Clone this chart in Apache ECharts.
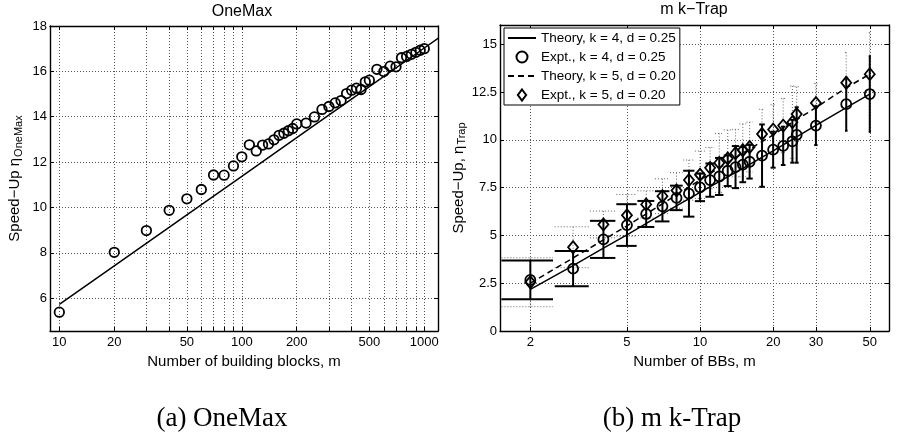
<!DOCTYPE html>
<html>
<head>
<meta charset="utf-8">
<script src="https://cdn.jsdelivr.net/npm/echarts@6/dist/echarts.min.js"></script>
<style>
html, body { margin: 0; padding: 0; background: #fff; }
#chart { width: 897px; height: 434px; }
</style>
</head>
<body>
<div id="chart"></div>
<script>
// ---- OneMax: speed-up against number of building blocks ----
const oneMaxM = [10, 20, 30, 40, 50, 60, 70, 80, 90, 100, 110, 120, 130, 140, 150, 160, 170, 180, 190, 200,
  225, 250, 275, 300, 325, 350, 375, 400, 425, 450, 475, 500,
  550, 600, 650, 700, 750, 800, 850, 900, 950, 1000];
const oneMaxSpeedUp = [5.38, 8.02, 8.98, 9.87, 10.38, 10.79, 11.43, 11.42, 11.83, 12.23, 12.76, 12.49, 12.75, 12.8, 12.98, 13.18, 13.27, 13.38, 13.48, 13.68,
  13.72, 13.99, 14.32, 14.45, 14.61, 14.71, 15.02, 15.17, 15.26, 15.2, 15.54, 15.61,
  16.09, 15.99, 16.23, 16.2, 16.6, 16.66, 16.75, 16.84, 16.93, 17.0];
const oneMaxTheoryM = [10, 20, 50, 100, 200, 500, 1000, 1200];
const oneMaxTheory = [5.72, 7.42, 9.67, 11.37, 13.08, 15.33, 17.03, 17.48];
const oneMaxXLabels = [10, 20, 50, 100, 200, 500, 1000];
const oneMaxXGrid = [10, 20, 30, 40, 50, 60, 70, 80, 90, 100, 200, 300, 400, 500, 600, 700, 800, 900, 1000];
const oneMaxYTicks = [6, 8, 10, 12, 14, 16, 18];

// ---- m k-Trap: speed-up against number of BBs ----
const trapM = [2, 3, 4, 5, 6, 7, 8, 9, 10, 11, 12, 13, 14, 15, 16, 18, 20, 22, 24, 25, 30, 40, 50];
const trapK4Mean = [2.67, 3.26, 4.79, 5.54, 6.12, 6.52, 6.96, 7.18, 7.51, 7.89, 8.08, 8.38, 8.57, 8.70, 8.85, 9.17, 9.48, 9.68, 9.92, 10.25, 10.74, 11.86, 12.39];
const trapK4Std = [1.01, 0.92, 0.97, 1.09, 0.68, 0.79, 0.64, 1.2, 0.72, 0.87, 0.97, 0.8, 1.1, 0.92, 0.88, 1.63, 0.94, 1.0, 1.12, 1.45, 1.02, 1.39, 1.98];
const trapK5Mean = [2.55, 4.38, 5.57, 6.05, 6.62, 7.05, 7.35, 7.89, 8.17, 8.53, 8.79, 9.02, 9.30, 9.45, 9.62, 10.30, 10.53, 10.74, 10.92, 11.34, 11.92, 12.98, 13.43];
const trapK5Std = [1.28, 1.07, 0.70, 1.09, 0.71, 0.91, 0.93, 1.05, 1.24, 1.07, 1.54, 1.49, 1.24, 1.38, 1.30, 1.29, 1.30, 1.42, 1.89, 1.43, 1.03, 1.59, 2.17];
const trapTheoryK4M = [2, 3, 4, 5, 7, 10, 15, 20, 30, 40, 50];
const trapTheoryK4 = [2.18, 3.42, 4.33, 5.03, 6.12, 7.25, 8.5, 9.42, 10.75, 11.68, 12.39];
const trapTheoryK5M = [2, 3, 4, 5, 7, 10, 15, 20, 25, 30, 40, 50];
const trapTheoryK5 = [2.5, 3.82, 4.76, 5.5, 6.65, 7.9, 9.3, 10.25, 11.05, 11.68, 12.72, 13.43];
const trapXLabels = [2, 5, 10, 20, 30, 50];
const trapYTicks = [0, 2.5, 5, 7.5, 10, 12.5, 15];

const names = {
  th4: 'Theory, k = 4, d = 0.25',
  ex4: 'Expt., k = 4, d = 0.25',
  th5: 'Theory, k = 5, d = 0.20',
  ex5: 'Expt., k = 5, d = 0.20'
};

const SANS = 'Liberation Sans, Arial, Helvetica, sans-serif';
const SERIF = 'Liberation Serif, Times New Roman, serif';
const DIAMOND_ICON = 'path://M5,0L9.5,6L5,12L0.5,6Z';

// errorbar caps span 1% of the m range on each side, as in MATLAB's errorbar
const capHalf = (Math.max(...trapM) - Math.min(...trapM)) / 100;

function pairs(xs, ys) { return xs.map((x, i) => [x, ys[i]]); }
function triples(xs, ys, es) { return xs.map((x, i) => [x, ys[i], es[i]]); }

function errorBars(style) {
  return function (params, api) {
    const m = api.value(0), mean = api.value(1), sd = api.value(2);
    const hi = mean + sd, lo = mean - sd;
    const t = api.coord([m, hi]), b = api.coord([m, lo]);
    const tl = api.coord([m - capHalf, hi]), tr = api.coord([m + capHalf, hi]);
    const bl = api.coord([m - capHalf, lo]), br = api.coord([m + capHalf, lo]);
    const seg = (p, q) => ({ type: 'line', shape: { x1: p[0], y1: p[1], x2: q[0], y2: q[1] }, style: style });
    return { type: 'group', children: [seg(t, b), seg(tl, tr), seg(bl, br)] };
  };
}

const tickStyle = { inside: true, length: 4, lineStyle: { color: '#000', width: 1 } };
const axisLineStyle = { show: true, onZero: false, lineStyle: { color: '#000', width: 1.4 } };
const gridLine = { show: true, lineStyle: { color: '#555', width: 1, type: [1, 2] } };
const labelStyle = { color: '#000', fontFamily: SANS, fontSize: 13, formatter: v => String(v) };

function logX(grid, min, max, position, tickVals, labelVals, name) {
  const ax = {
    type: 'log', logBase: 10, gridIndex: grid, min: min, max: max, position: position,
    axisLine: axisLineStyle,
    axisTick: Object.assign({ customValues: tickVals }, tickStyle),
    splitLine: { show: false },
    axisLabel: { show: false }
  };
  if (position === 'bottom') {
    ax.splitLine = gridLine;
    ax.axisLabel = Object.assign({ show: true, margin: 5, customValues: labelVals }, labelStyle);
    ax.name = name;
    ax.nameLocation = 'middle';
    ax.nameGap = 14;
    ax.nameTextStyle = { color: '#000', fontFamily: SANS, fontSize: 15 };
  }
  return ax;
}

function valY(grid, min, max, position, ticks, name, sub, gap) {
  const ax = {
    type: 'value', gridIndex: grid, min: min, max: max, position: position,
    axisLine: axisLineStyle,
    axisTick: Object.assign({ customValues: ticks }, tickStyle),
    splitLine: { show: false },
    axisLabel: { show: false }
  };
  if (position === 'left') {
    ax.splitLine = gridLine;
    ax.axisLabel = Object.assign({ show: true, margin: 3, customValues: ticks }, labelStyle);
    ax.name = '{m|' + name + '}{s|' + sub + '}';
    ax.nameLocation = 'middle';
    ax.nameRotate = 90;
    ax.nameGap = gap;
    ax.nameTextStyle = {
      color: '#000', fontFamily: SANS, fontSize: 15,
      rich: {
        m: { fontFamily: SANS, fontSize: 15, color: '#000', lineHeight: 18 },
        s: { fontFamily: SANS, fontSize: 11, color: '#000', lineHeight: 11, verticalAlign: 'bottom', padding: [14, 0, 0, 1] }
      }
    };
  }
  return ax;
}

const chart = echarts.init(document.getElementById('chart'), null, { renderer: 'canvas' });

const markerStyle = { color: 'transparent', borderColor: '#000', borderWidth: 1.8, opacity: 1 };
// theory entries show only their line in the legend
const lineOnly = { opacity: 0 };

chart.setOption({
  backgroundColor: '#fff',
  animation: false,
  title: [
    { text: 'OneMax', left: 242, top: 4, textAlign: 'center', padding: 0,
      textStyle: { fontFamily: SANS, fontSize: 16, fontWeight: 'normal', color: '#000' } },
    { text: 'm k\u2212Trap', left: 694, top: 2, textAlign: 'center', padding: 0,
      textStyle: { fontFamily: SANS, fontSize: 16, fontWeight: 'normal', color: '#000' } },
    { text: '(a) OneMax', left: 222, top: 405, textAlign: 'center', padding: 0,
      textStyle: { fontFamily: SERIF, fontSize: 27, fontWeight: 'normal', color: '#000' } },
    { text: '(b) m k-Trap', left: 672, top: 405, textAlign: 'center', padding: 0,
      textStyle: { fontFamily: SERIF, fontSize: 27, fontWeight: 'normal', color: '#000' } }
  ],
  legend: {
    data: [
      { name: names.th4, itemStyle: lineOnly },
      { name: names.ex4, icon: 'circle' },
      { name: names.th5, itemStyle: lineOnly },
      { name: names.ex5, icon: DIAMOND_ICON }
    ],
    orient: 'vertical', left: 504, top: 28,
    itemWidth: 28, itemHeight: 11, itemGap: 5,
    padding: [3, 4, 3, 3],
    borderColor: '#000', borderWidth: 1, borderRadius: 0, backgroundColor: '#fff',
    selectedMode: false,
    textStyle: { fontFamily: SANS, fontSize: 13.5, color: '#000' }
  },
  grid: [
    { left: 50, top: 26, width: 388, height: 305, containLabel: false, outerBoundsMode: 'none' },
    { left: 500, top: 25, width: 389, height: 306, containLabel: false, outerBoundsMode: 'none' }
  ],
  xAxis: [
    logX(0, 8.89, 1189, 'bottom', oneMaxXGrid, oneMaxXLabels, 'Number of building blocks, m'),
    logX(0, 8.89, 1189, 'top', oneMaxXGrid, oneMaxXLabels),
    logX(1, 1.5, 60, 'bottom', trapXLabels, trapXLabels, 'Number of BBs, m'),
    logX(1, 1.5, 60, 'top', trapXLabels, trapXLabels)
  ],
  yAxis: [
    valY(0, 4.55, 18, 'left', oneMaxYTicks, 'Speed\u2212Up \u03b7', 'OneMax', 26),
    valY(0, 4.55, 18, 'right', oneMaxYTicks),
    valY(1, 0, 16, 'left', trapYTicks, 'Speed\u2212Up, \u03b7', 'Trap', 26),
    valY(1, 0, 16, 'right', trapYTicks)
  ],
  series: [
    {
      name: 'OneMax theory', type: 'line', xAxisIndex: 0, yAxisIndex: 0,
      data: pairs(oneMaxTheoryM, oneMaxTheory), symbol: 'none', clip: true,
      lineStyle: { color: '#000', width: 1.5 }, z: 3
    },
    {
      name: 'OneMax experiment', type: 'scatter', xAxisIndex: 0, yAxisIndex: 0,
      data: pairs(oneMaxM, oneMaxSpeedUp), symbol: 'circle', symbolSize: 9.5,
      itemStyle: markerStyle, z: 4
    },
    {
      name: 'k5 spread', type: 'custom', xAxisIndex: 2, yAxisIndex: 2, clip: true,
      data: triples(trapM, trapK5Mean, trapK5Std),
      renderItem: errorBars({ stroke: '#666', lineWidth: 1, lineDash: [1, 2] }), z: 2
    },
    {
      name: 'k4 spread', type: 'custom', xAxisIndex: 2, yAxisIndex: 2, clip: true,
      data: triples(trapM, trapK4Mean, trapK4Std),
      renderItem: errorBars({ stroke: '#000', lineWidth: 2 }), z: 3
    },
    {
      name: names.th4, type: 'line', xAxisIndex: 2, yAxisIndex: 2,
      data: pairs(trapTheoryK4M, trapTheoryK4), symbol: 'none',
      lineStyle: { color: '#000', width: 1.5 }, itemStyle: { color: '#000' }, z: 3
    },
    {
      name: names.ex4, type: 'scatter', xAxisIndex: 2, yAxisIndex: 2,
      data: pairs(trapM, trapK4Mean), symbol: 'circle', symbolSize: 10,
      itemStyle: markerStyle, z: 4
    },
    {
      name: names.th5, type: 'line', xAxisIndex: 2, yAxisIndex: 2,
      data: pairs(trapTheoryK5M, trapTheoryK5), symbol: 'none',
      lineStyle: { color: '#000', width: 1.5, type: [6, 4] }, itemStyle: { color: '#000' }, z: 3
    },
    {
      name: names.ex5, type: 'scatter', xAxisIndex: 2, yAxisIndex: 2,
      data: pairs(trapM, trapK5Mean), symbol: 'diamond', symbolSize: [10, 12],
      itemStyle: markerStyle, z: 4
    }
  ]
});
</script>
</body>
</html>
